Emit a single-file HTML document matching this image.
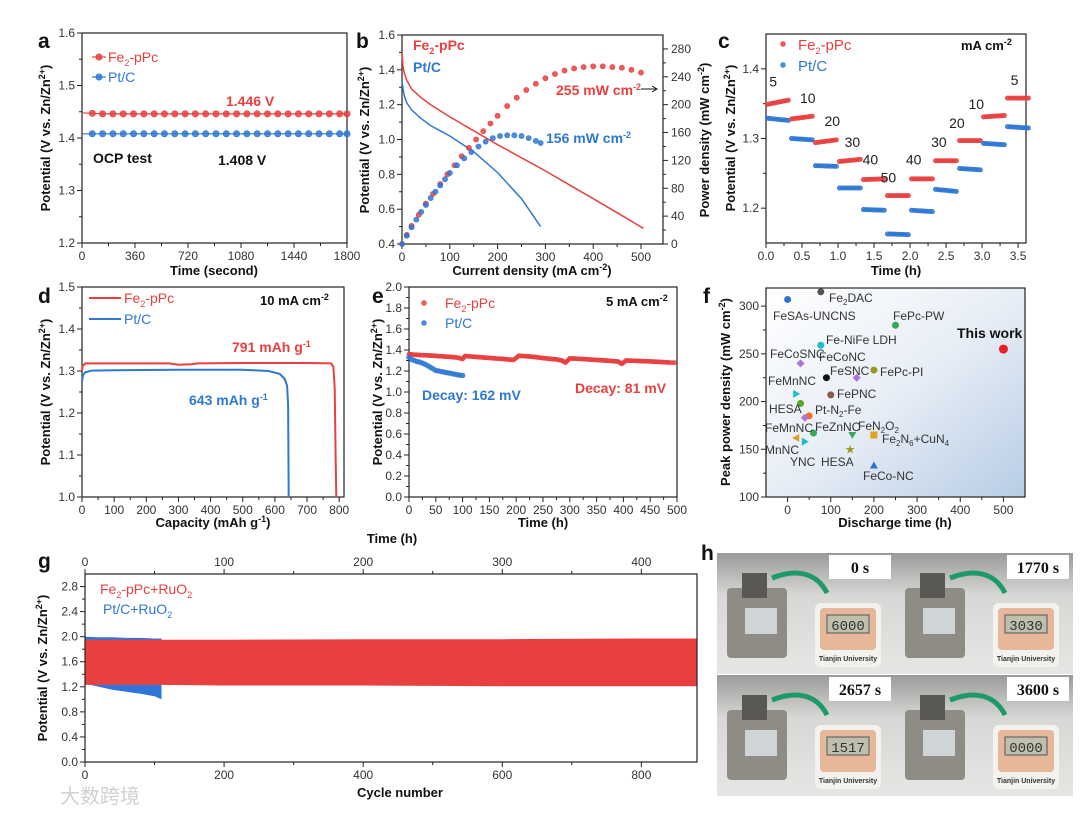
<!DOCTYPE html>
<html><head><meta charset="utf-8">
<style>
html,body{margin:0;padding:0;background:#fff;}
svg{display:block;font-family:"Liberation Sans",Arial,sans-serif;}
.ttl{font-size:13px;font-weight:bold;fill:#111;}
.pl{font-size:21px;font-weight:bold;fill:#111;}
</style></head>
<body>
<svg id="fig" width="1080" height="815" viewBox="0 0 1080 815" xmlns="http://www.w3.org/2000/svg">
<defs>
<linearGradient id="fbg" x1="0" y1="0" x2="1" y2="1">
<stop offset="0" stop-color="#ffffff"/><stop offset="0.5" stop-color="#e8eef6"/><stop offset="1" stop-color="#b7cde5"/>
</linearGradient>
<linearGradient id="phbg" x1="0" y1="0" x2="0" y2="1">
<stop offset="0" stop-color="#9a9a98"/><stop offset="0.35" stop-color="#d7d7d5"/><stop offset="1" stop-color="#e6e6e4"/>
</linearGradient>
</defs>
<rect x="766" y="288" width="259" height="209" fill="url(#fbg)"/>
</svg>
<script>
// ---------- DATA ----------
// panel a
const aTimes=[0,70,140,210,280,350,420,490,560,630,700,770,840,910,980,1050,1120,1190,1260,1330,1400,1470,1540,1610,1680,1750,1800];
const aFe=[1.448,1.447,1.446,1.446,1.446,1.446,1.446,1.446,1.446,1.446,1.446,1.446,1.446,1.446,1.446,1.446,1.446,1.446,1.446,1.446,1.446,1.446,1.446,1.446,1.446,1.446,1.446];
const aPt=[1.408,1.408,1.408,1.408,1.408,1.408,1.408,1.408,1.408,1.408,1.408,1.408,1.408,1.408,1.408,1.408,1.408,1.408,1.408,1.408,1.408,1.408,1.408,1.408,1.408,1.408,1.408];
// panel b
const bFeJ=[0,2,5,10,20,40,60,80,100,150,200,250,300,350,400,450,505];
const bFeV=[1.50,1.42,1.38,1.34,1.29,1.24,1.20,1.165,1.13,1.05,0.97,0.895,0.82,0.74,0.66,0.58,0.49];
const bPtJ=[0,2,5,10,20,40,60,80,100,150,200,250,290];
const bPtV=[1.34,1.29,1.25,1.21,1.17,1.12,1.08,1.05,1.02,0.93,0.81,0.66,0.50];
const bFePJ=[0,10,20,35,50,65,80,95,110,125,140,155,170,185,200,220,240,260,280,300,320,340,360,380,400,420,440,460,480,500];
const bFeP=[0,13,26,42,58,72,86,100,113,126,138,150,162,173,184,198,210,221,230,238,244,249,252,254,255,255,254,253,250,246];
const bPtPJ=[0,10,20,30,40,50,60,70,80,90,100,115,130,145,160,175,190,205,220,235,250,265,280,290];
const bPtP=[0,12,24,35,46,56,66,75,84,93,102,113,123,132,140,147,152,155,156,156,155,152,148,145];
// panel c
const cCurrents=[5,10,20,30,40,50,40,30,20,10,5];
const cFeStart=[1.349,1.328,1.294,1.267,1.241,1.218,1.242,1.268,1.297,1.331,1.358];
const cFeEnd=[1.355,1.332,1.298,1.270,1.242,1.218,1.242,1.268,1.297,1.333,1.358];
const cPtStart=[1.329,1.300,1.261,1.229,1.198,1.163,1.197,1.227,1.257,1.293,1.317];
const cPtEnd=[1.326,1.298,1.260,1.229,1.197,1.162,1.195,1.224,1.255,1.291,1.315];
const cLabelT=[0.10,0.58,0.92,1.20,1.45,1.70,2.05,2.40,2.65,2.92,3.45];
const cLabelV=[1.375,1.351,1.318,1.288,1.263,1.237,1.263,1.288,1.315,1.342,1.377];
// panel d
const dFeCap=[0,2,10,100,270,300,340,360,500,700,775,782,786,789,791];
const dFeV=[1.30,1.312,1.318,1.318,1.318,1.315,1.316,1.318,1.319,1.319,1.318,1.31,1.26,1.10,1.0];
const dPtCap=[0,3,10,30,100,300,500,580,615,630,638,641,643];
const dPtV=[1.275,1.29,1.297,1.301,1.302,1.303,1.303,1.300,1.293,1.282,1.265,1.22,1.0];
// panel e
const eFeT=[0,10,20,30,40,50,60,70,80,90,100,105,115,125,135,145,155,165,175,185,195,205,215,225,235,245,255,265,275,285,292,300,310,320,330,340,350,360,370,380,390,397,405,415,425,435,445,455,465,475,485,500];
const eFeV=[1.36,1.355,1.352,1.35,1.347,1.343,1.34,1.336,1.333,1.328,1.315,1.343,1.338,1.334,1.33,1.326,1.322,1.318,1.315,1.31,1.305,1.345,1.342,1.338,1.333,1.326,1.32,1.315,1.31,1.30,1.28,1.32,1.318,1.315,1.312,1.308,1.305,1.302,1.298,1.294,1.29,1.268,1.30,1.298,1.296,1.294,1.292,1.29,1.287,1.284,1.281,1.278];
const ePtT=[0,5,10,15,20,25,30,35,40,45,50,55,60,65,70,75,80,85,90,95,100];
const ePtV=[1.33,1.31,1.30,1.29,1.285,1.275,1.265,1.25,1.235,1.22,1.205,1.20,1.195,1.19,1.185,1.18,1.175,1.17,1.165,1.16,1.158];
// panel f
const fNames=["FeSAs-UNCNS","Fe2DAC","FePc-PW","Fe-NiFe LDH","FeCoSNC","FeSNC","FePc-PI","FeCoNC","FeMnNC","FePNC","HESA","Pt-N2-Fe","FeMnNC-2","FeZnNC","FeN2O2","Fe2N6+CuN4","MnNC","YNC","HESA-2","FeCo-NC","This work"];
const fTime=[0,77,250,77,30,90,200,160,20,100,30,50,40,60,150,200,20,40,145,200,500];
const fPower=[307,315,280,259,240,225,233,225,208,207,198,185,183,167,165,165,162,158,150,133,255];
const fColor=["#2f6fd0","#555555","#33aa55","#22bbcc","#b070e0","#111111","#999922","#b070e0","#22bbcc","#8a5a4a","#55aa22","#f07020","#b070e0","#33aa55","#33aa55","#e0a020","#e0a020","#22bbcc","#999922","#2f6fd0","#e82020"];
const fShape=["c","c","c","c","d","c","c","d","r","c","c","c","d","c","v","s","l","r","*","u","c"];
// panel g
const gCycles=[0,20,40,60,80,100,110];
const gPtHigh=[2.00,1.99,1.99,1.98,1.98,1.97,1.97];
const gPtLow=[1.25,1.20,1.15,1.12,1.09,1.05,1.00];
const gFeCycles=[0,110,200,400,600,800,880];
const gFeHigh=[1.95,1.95,1.95,1.96,1.96,1.97,1.97];
const gFeLow=[1.23,1.23,1.22,1.22,1.21,1.21,1.21];

// ---------- HELPERS ----------
const NS="http://www.w3.org/2000/svg";
const svg=document.getElementById('fig');
const RED="#e8403f", BLUE="#2e78d4";
function mk(tag,attrs,parent){const e=document.createElementNS(NS,tag);for(const k in attrs)e.setAttribute(k,attrs[k]);(parent||svg).appendChild(e);return e;}
function txt(x,y,s,cls,parent,extra){const base=(cls==='tk'||!cls)?{'font-size':12,fill:'#333'}:{class:cls};const e=mk('text',Object.assign({x:x,y:y},base,extra||{}),parent);e.innerHTML=s;return e;}
function lin(d0,d1,r0,r1){return v=>r0+(v-d0)/(d1-d0)*(r1-r0);}
function frame(g,x0,y0,x1,y1){const r=mk('rect',{x:x0,y:y0,width:x1-x0,height:y1-y0,fill:'none',stroke:'#222','stroke-width':1.2},g);

}
function xTicks(g,sx,ticks,y,labels,minor,up){ticks.forEach((t,i)=>{mk('line',{x1:sx(t),x2:sx(t),y1:y,y2:y+(up?-5:5),stroke:'#222'},g);
const l=txt(sx(t),up?y-8:y+17,labels?labels[i]:t,'tk',g,{'text-anchor':'middle'});

});
if(minor)minor.forEach(t=>mk('line',{x1:sx(t),x2:sx(t),y1:y,y2:y+(up?-3:3),stroke:'#222'},g));}
function yTicks(g,sy,ticks,x,labels,right,minor){ticks.forEach((t,i)=>{mk('line',{x1:x,x2:x+(right?5:-5),y1:sy(t),y2:sy(t),stroke:'#222'},g);
const l=txt(right?x+8:x-7,sy(t)+4,labels?labels[i]:t,'tk',g,{'text-anchor':right?'start':'end'});

});
if(minor)minor.forEach(t=>mk('line',{x1:x,x2:x+(right?3:-3),y1:sy(t),y2:sy(t),stroke:'#222'},g));}
function ytitle(g,x,y,s){const t=txt(x,y,s,'ttl',g,{'text-anchor':'middle',transform:`rotate(-90 ${x} ${y})`});

return t;}
function xtitle(g,x,y,s){const t=txt(x,y,s,'ttl',g,{'text-anchor':'middle'});

return t;}
function letter(x,y,s){const t=txt(x,y,s,'pl');

}
function seq(a,b,s){const r=[];for(let v=a;v<=b+1e-9;v+=s)r.push(+v.toFixed(4));return r;}
function path(xs,ys,sx,sy){return xs.map((x,i)=>(i?'L':'M')+sx(x).toFixed(1)+','+sy(ys[i]).toFixed(1)).join(' ');}
function dot(g,x,y,r,c,name){const e=mk('circle',{cx:x,cy:y,r:r,fill:c,stroke:c,'stroke-width':0.6,'fill-opacity':0.85},g);

return e;}
function group(name){const g=mk('g',{});

return g;}
const YT='Potential (V vs. Zn/Zn<tspan dy="-5" font-size="9">2+</tspan><tspan dy="5">)</tspan>';
const FE='Fe<tspan dy="4" font-size="9">2</tspan><tspan dy="-4">-pPc</tspan>';

// ---------- PANEL A ----------
(function(){const g=group('panel-a-ocp-chart');
const sx=lin(0,1800,82,347), sy=lin(1.2,1.6,243,33);
frame(g,82,33,347,243);
xTicks(g,sx,seq(0,1800,360),243,null,seq(180,1620,360));
yTicks(g,sy,seq(1.2,1.6,0.1),82,seq(1.2,1.6,0.1).map(v=>v.toFixed(1)),false,seq(1.25,1.55,0.1));
ytitle(g,50,138,YT);xtitle(g,214,275,'Time (second)');
mk('path',{d:path(aTimes,aFe,sx,sy),stroke:RED,fill:'none','stroke-width':1.2},g);
mk('path',{d:path(aTimes,aPt,sx,sy),stroke:BLUE,fill:'none','stroke-width':1.2},g);
aTimes.forEach((t,i)=>{if(i>0){dot(g,sx(t),sy(aFe[i]),3.2,RED,'fe2-ppc-point');dot(g,sx(t),sy(aPt[i]),3.2,BLUE,'pt-c-point');}});
mk('line',{x1:92,x2:106,y1:57,y2:57,stroke:RED,'stroke-width':1.2},g);dot(g,99,57,3.2,RED,'legend-marker-fe');
txt(108,62,FE,'tk',g,{fill:RED,'font-size':14});
mk('line',{x1:92,x2:106,y1:77,y2:77,stroke:BLUE,'stroke-width':1.2},g);dot(g,99,77,3.2,BLUE,'legend-marker-pt');
txt(108,82,'Pt/C','tk',g,{fill:BLUE,'font-size':14});
txt(226,106,'1.446 V','tk',g,{fill:RED,'font-size':14,'font-weight':'bold'});
txt(93,163,'OCP test','tk',g,{fill:'#111','font-size':14,'font-weight':'bold'});
txt(218,165,'1.408 V','tk',g,{fill:'#111','font-size':14,'font-weight':'bold'});
letter(38,48,'a');})();

// ---------- PANEL B ----------
(function(){const g=group('panel-b-polarization-chart');
const sx=lin(0,546,402,663), sy=lin(0.4,1.6,244,35), sp=lin(0,300,244,35);
frame(g,402,35,663,244);
xTicks(g,sx,seq(0,500,100),244,null,seq(50,450,100));
yTicks(g,sy,seq(0.4,1.6,0.2),402,seq(0.4,1.6,0.2).map(v=>v.toFixed(1)),false,seq(0.5,1.5,0.2));
yTicks(g,sp,seq(0,280,40),663,null,true,seq(20,260,40));
ytitle(g,369,140,YT);xtitle(g,532,275,'Current density (mA cm<tspan dy="-5" font-size="9">-2</tspan><tspan dy="5">)</tspan>');
const t=txt(709,140,'Power density (mW cm<tspan dy="-5" font-size="9">-2</tspan><tspan dy="5">)</tspan>','ttl',g,{'text-anchor':'middle',transform:'rotate(-90 709 140)'});


mk('path',{d:path(bFeJ,bFeV,sx,sy),stroke:RED,fill:'none','stroke-width':1.5},g);
mk('path',{d:path(bPtJ,bPtV,sx,sy),stroke:BLUE,fill:'none','stroke-width':1.5},g);
bFePJ.forEach((j,i)=>dot(g,sx(j),sp(bFeP[i]),2.6,RED,'fe-power-point'));
bPtPJ.forEach((j,i)=>dot(g,sx(j),sp(bPtP[i]),2.6,BLUE,'pt-power-point'));
txt(413,50,FE,'tk',g,{fill:RED,'font-size':14,'font-weight':'bold'});
txt(413,72,'Pt/C','tk',g,{fill:BLUE,'font-size':14,'font-weight':'bold'});
txt(556,95,'255 mW cm<tspan dy="-5" font-size="9">-2</tspan>','tk',g,{fill:RED,'font-size':14,'font-weight':'bold'});
mk('path',{d:'M641,89 L656,89 M652,86 L657,89 L652,92',stroke:'#111',fill:'none'},g);
txt(546,143,'156 mW cm<tspan dy="-5" font-size="9">-2</tspan>','tk',g,{fill:BLUE,'font-size':14,'font-weight':'bold'});
letter(356,48,'b');})();

// ---------- PANEL C ----------
(function(){const g=group('panel-c-rate-chart');
const sx=lin(0,3.61,766,1026), sy=lin(1.15,1.45,243,34);
frame(g,766,34,1026,243);
xTicks(g,sx,seq(0,3.5,0.5),243,seq(0,3.5,0.5).map(v=>v.toFixed(1)),seq(0.25,3.25,0.5));
yTicks(g,sy,[1.2,1.3,1.4],766,['1.2','1.3','1.4'],false,[1.25,1.35]);
ytitle(g,735,138,YT);xtitle(g,896,275,'Time (h)');
cCurrents.forEach((c,i)=>{const t0=i/3;for(let k=0;k<10;k++){const f=k/9,t=t0+0.02+f*0.29;
dot(g,sx(t),sy(cFeStart[i]+(cFeEnd[i]-cFeStart[i])*f),2.2,RED,'fe-step-point');
dot(g,sx(t),sy(cPtStart[i]+(cPtEnd[i]-cPtStart[i])*f),2.2,BLUE,'pt-step-point');}
const l=txt(sx(cLabelT[i]),sy(cLabelV[i]),c,'tk',g,{'font-size':14,'text-anchor':'middle',fill:'#222'});

});
dot(g,783,44,2.4,RED,'legend-marker-fe');txt(798,50,FE,'tk',g,{fill:RED,'font-size':15});
dot(g,783,65,2.4,BLUE,'legend-marker-pt');txt(798,71,'Pt/C','tk',g,{fill:BLUE,'font-size':15});
txt(961,50,'mA cm<tspan dy="-5" font-size="9">-2</tspan>','tk',g,{fill:'#111','font-size':13,'font-weight':'bold'});
letter(718,48,'c');})();

// ---------- PANEL D ----------
(function(){const g=group('panel-d-discharge-chart');
const sx=lin(0,815,82,344), sy=lin(1.0,1.5,497,287);
frame(g,82,287,344,497);
xTicks(g,sx,seq(0,800,100),497,null,seq(50,750,100));
yTicks(g,sy,seq(1.0,1.5,0.1),82,seq(1.0,1.5,0.1).map(v=>v.toFixed(1)),false,seq(1.05,1.45,0.1));
ytitle(g,50,392,YT);xtitle(g,213,527,'Capacity (mAh g<tspan dy="-5" font-size="9">-1</tspan><tspan dy="5">)</tspan>');
mk('path',{d:path(dFeCap,dFeV,sx,sy),stroke:RED,fill:'none','stroke-width':2},g);
mk('path',{d:path(dPtCap,dPtV,sx,sy),stroke:BLUE,fill:'none','stroke-width':2},g);
mk('line',{x1:89,x2:121,y1:298,y2:298,stroke:RED,'stroke-width':2},g);txt(124,303,FE,'tk',g,{fill:RED,'font-size':14});
mk('line',{x1:89,x2:121,y1:319,y2:319,stroke:BLUE,'stroke-width':2},g);txt(124,324,'Pt/C','tk',g,{fill:BLUE,'font-size':14});
txt(260,305,'10 mA cm<tspan dy="-5" font-size="9">-2</tspan>','tk',g,{fill:'#111','font-size':13,'font-weight':'bold'});
txt(232,352,'791 mAh g<tspan dy="-5" font-size="9">-1</tspan>','tk',g,{fill:RED,'font-size':14,'font-weight':'bold'});
txt(189,405,'643 mAh g<tspan dy="-5" font-size="9">-1</tspan>','tk',g,{fill:BLUE,'font-size':14,'font-weight':'bold'});
letter(38,303,'d');})();

// ---------- PANEL E ----------
(function(){const g=group('panel-e-stability-chart');
const sx=lin(0,500,409,677), sy=lin(0,2.0,497,287);
frame(g,409,287,677,497);
xTicks(g,sx,seq(0,500,50),497,null,seq(25,475,50));
yTicks(g,sy,seq(0,2.0,0.2),409,seq(0,2.0,0.2).map(v=>v.toFixed(1)),false,seq(0.1,1.9,0.2));
ytitle(g,382,392,YT);xtitle(g,543,527,'Time (h)');xtitle(g,392,543,'Time (h)');
eFeT.forEach((t,i)=>{if(i<eFeT.length-1){const n=3;for(let k=0;k<n;k++){const f=k/n;dot(g,sx(t+(eFeT[i+1]-t)*f),sy(eFeV[i]+(eFeV[i+1]-eFeV[i])*f),2.1,RED,'fe-stability-point');}}});
ePtT.forEach((t,i)=>dot(g,sx(t),sy(ePtV[i]),2.4,BLUE,'pt-stability-point'));
dot(g,424,303,2.4,RED,'legend-marker-fe');txt(445,308,FE,'tk',g,{fill:RED,'font-size':14});
dot(g,424,323,2.4,BLUE,'legend-marker-pt');txt(445,328,'Pt/C','tk',g,{fill:BLUE,'font-size':14});
txt(606,306,'5 mA cm<tspan dy="-5" font-size="9">-2</tspan>','tk',g,{fill:'#111','font-size':13,'font-weight':'bold'});
txt(422,400,'Decay: 162 mV','tk',g,{fill:BLUE,'font-size':14,'font-weight':'bold'});
txt(575,393,'Decay: 81 mV','tk',g,{fill:RED,'font-size':14,'font-weight':'bold'});
letter(372,303,'e');})();

// ---------- PANEL F ----------
(function(){const g=group('panel-f-comparison-chart');
const sx=lin(-50,550,766,1025), sy=lin(100,319,497,288);
frame(g,766,288,1025,497);
xTicks(g,sx,seq(0,500,100),497,null,seq(50,450,100));
yTicks(g,sy,seq(100,300,50),766,null,false,seq(125,275,50));
ytitle(g,730,392,'Peak power density (mW cm<tspan dy="-5" font-size="9">-2</tspan><tspan dy="5">)</tspan>');
xtitle(g,895,527,'Discharge time (h)');
fTime.forEach((t,i)=>{const x=sx(t),y=sy(fPower[i]),c=fColor[i],s=fShape[i];let e;
if(s==='c')e=mk('circle',{cx:x,cy:y,r:i===20?4.5:3.5,fill:c},g);
else if(s==='d')e=mk('polygon',{points:`${x},${y-4} ${x+4},${y} ${x},${y+4} ${x-4},${y}`,fill:c},g);
else if(s==='r')e=mk('polygon',{points:`${x-3},${y-4} ${x+4},${y} ${x-3},${y+4}`,fill:c},g);
else if(s==='l')e=mk('polygon',{points:`${x+3},${y-4} ${x-4},${y} ${x+3},${y+4}`,fill:c},g);
else if(s==='u')e=mk('polygon',{points:`${x},${y-4} ${x+4},${y+3} ${x-4},${y+3}`,fill:c},g);
else if(s==='v')e=mk('polygon',{points:`${x},${y+4} ${x+4},${y-3} ${x-4},${y-3}`,fill:c},g);
else if(s==='s')e=mk('rect',{x:x-3.5,y:y-3.5,width:7,height:7,fill:c},g);
else {e=mk('text',{x:x,y:y+4,'text-anchor':'middle','font-size':12,fill:c},g);e.textContent='★';}

});
const L=[[773,320,'FeSAs-UNCNS'],[829,302,'Fe<tspan dy="3" font-size="8">2</tspan><tspan dy="-3">DAC</tspan>'],[893,320,'FePc-PW'],[826,344,'Fe-NiFe LDH'],[770,358,'FeCoSNC'],[819,361,'FeCoNC'],[830,375,'FeSNC'],[880,376,'FePc-PI'],[768,385,'FeMnNC'],[837,398,'FePNC'],[769,413,'HESA'],[815,414,'Pt-N<tspan dy="3" font-size="8">2</tspan><tspan dy="-3">-Fe</tspan>'],[765,432,'FeMnNC'],[815,431,'FeZnNC'],[858,430,'FeN<tspan dy="3" font-size="8">2</tspan><tspan dy="-3">O</tspan><tspan dy="3" font-size="8">2</tspan>'],[882,443,'Fe<tspan dy="3" font-size="8">2</tspan><tspan dy="-3">N</tspan><tspan dy="3" font-size="8">6</tspan><tspan dy="-3">+CuN</tspan><tspan dy="3" font-size="8">4</tspan>'],[765,454,'MnNC'],[790,466,'YNC'],[821,466,'HESA'],[863,480,'FeCo-NC']];
L.forEach(l=>{const e=txt(l[0],l[1],l[2],'tk',g,{'font-size':12,fill:'#333'});

});
txt(957,338,'This work','tk',g,{'font-size':14,'font-weight':'bold',fill:'#111'});
letter(703,303,'f');})();

// ---------- PANEL G ----------
(function(){const g=group('panel-g-cycling-chart');
const sx=lin(0,880,85,697), sy=lin(0,3.0,762,574), st=lin(0,440,85,697);
const p1=mk('path',{d:path(gCycles,gPtHigh,sx,sy)+' '+path(gCycles.slice().reverse(),gPtLow.slice().reverse(),sx,sy).replace('M','L')+' Z',fill:'#2f74d8'},g);


const p2=mk('path',{d:path(gFeCycles,gFeHigh,sx,sy)+' '+path(gFeCycles.slice().reverse(),gFeLow.slice().reverse(),sx,sy).replace('M','L')+' Z',fill:'#e84040'},g);


frame(g,85,574,697,762);
xTicks(g,sx,seq(0,800,200),762,null,seq(100,700,200));
xTicks(g,st,seq(0,400,100),574,null,seq(50,400,100),true);
yTicks(g,sy,seq(0,2.8,0.4),85,seq(0,2.8,0.4).map(v=>v.toFixed(1)),false,seq(0.2,2.6,0.4));
ytitle(g,47,668,YT);xtitle(g,400,797,'Cycle number');
txt(100,594,'Fe<tspan dy="4" font-size="9">2</tspan><tspan dy="-4">-pPc+RuO</tspan><tspan dy="4" font-size="9">2</tspan>','tk',g,{fill:RED,'font-size':14});
txt(103,614,'Pt/C+RuO<tspan dy="4" font-size="9">2</tspan>','tk',g,{fill:BLUE,'font-size':14});
letter(38,568,'g');})();

// ---------- PANEL H ----------
(function(){const g=group('panel-h-photos');
letter(701,560,'h');
const cells=[[717,553,'0 s','6000'],[895,553,'1770 s','3030'],[717,675,'2657 s','1517'],[895,675,'3600 s','0000']];
cells.forEach(c=>{const [x,y,lab,tm]=c;const p=group('photo-'+lab.replace(' ','-'));
mk('rect',{x:x,y:y,width:178,height:121,fill:'url(#phbg)'},p);
mk('rect',{x:x+10,y:y+35,width:60,height:70,fill:'#8f8c85',rx:4},p);
mk('rect',{x:x+25,y:y+20,width:25,height:25,fill:'#5a5854'},p);
mk('rect',{x:x+28,y:y+55,width:32,height:26,fill:'#cfd4d6'},p);
mk('path',{d:`M${x+55},${y+25} C${x+80},${y+15} ${x+100},${y+20} ${x+110},${y+40}`,stroke:'#1e9a6a','stroke-width':5,fill:'none'},p);
mk('rect',{x:x+98,y:y+50,width:66,height:64,fill:'#f4f2ee',rx:6},p);
mk('rect',{x:x+103,y:y+55,width:56,height:42,fill:'#e7b79a',rx:4},p);
mk('rect',{x:x+110,y:y+62,width:42,height:18,fill:'#bfbfae',stroke:'#555'},p);
txt(x+131,y+77,tm,'tk',p,{'text-anchor':'middle','font-family':'Liberation Mono, monospace','font-size':14,fill:'#333'});
txt(x+131,y+108,'Tianjin University','tk',p,{'text-anchor':'middle','font-size':7,'font-weight':'bold',fill:'#333'});
mk('rect',{x:x+112,y:y+2,width:62,height:24,fill:'#fff'},p);
txt(x+143,y+20,lab,'tk',p,{'text-anchor':'middle','font-family':'Liberation Serif, serif','font-size':16,'font-weight':'bold',fill:'#111'});});})();

// watermark
(function(){const t=txt(60,803,'大数跨境','tk',null,{'font-family':'"Liberation Sans","Noto Sans CJK SC",sans-serif','font-size':20,fill:'#d0d0d0'});

})();
</script>
</body></html>
